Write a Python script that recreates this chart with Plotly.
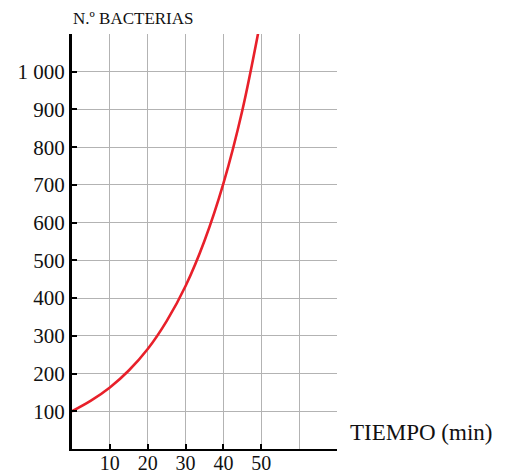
import plotly.graph_objects as go

# values
tiempo = [0, 5, 10, 15, 20, 25, 30, 35, 40, 45, 50]
bacterias = [100, 128, 163, 208, 265, 339, 432, 552, 704, 898, 1146]

x_ticks = [10, 20, 30, 40, 50]
y_ticks = [100, 200, 300, 400, 500, 600, 700, 800, 900, 1000]
y_labels = ["100", "200", "300", "400", "500", "600", "700", "800", "900", "1 000"]

serif = "Liberation Serif, Times New Roman, serif"

fig = go.Figure()
fig.add_trace(go.Scatter(
    x=tiempo, y=bacterias, mode="lines",
    line=dict(color="#e8202a", width=2.6, shape="spline"),
    hoverinfo="skip",
))

fig.update_xaxes(
    range=[0, 70], tickvals=x_ticks, ticktext=[str(v) for v in x_ticks],
    showgrid=True, gridcolor="#b3b3b3", gridwidth=1,
    minor=dict(dtick=10, tick0=0, showgrid=True, gridcolor="#b3b3b3", gridwidth=1, ticks=""),
    showline=True, linecolor="black", linewidth=2,
    ticks="inside", ticklen=5, tickwidth=2, tickcolor="black",
    tickfont=dict(family=serif, size=20, color="#111"), ticklabelstandoff=-5,
    zeroline=False, fixedrange=True, automargin=False,
)
fig.update_yaxes(
    range=[0, 1100], tickvals=y_ticks, ticktext=y_labels,
    showgrid=True, gridcolor="#b3b3b3", gridwidth=1,
    minor=dict(dtick=100, tick0=0, showgrid=True, gridcolor="#b3b3b3", gridwidth=1, ticks=""),
    showline=True, linecolor="black", linewidth=3,
    ticks="inside", ticklen=5, tickwidth=2, tickcolor="black",
    tickfont=dict(family=serif, size=21, color="#111"),
    zeroline=False, fixedrange=True, automargin=False,
)

fig.add_annotation(text="N.º BACTERIAS", xref="paper", yref="paper", x=-0.005, y=1.01,
                   xanchor="left", yanchor="bottom", showarrow=False,
                   font=dict(family=serif, size=17, color="#111"))
fig.add_annotation(text="TIEMPO (min)", xref="paper", yref="paper", x=1.04, y=0.04,
                   xanchor="left", yanchor="middle", showarrow=False,
                   font=dict(family=serif, size=23, color="#111"))

fig.update_layout(
    width=510, height=475,
    margin=dict(l=72, r=173, t=34, b=26, autoexpand=False),
    plot_bgcolor="white", paper_bgcolor="white",
    showlegend=False,
)

# drop the browser's default page margin so the figure sits at the window corner
fig.write_html("out.html", config={"displayModeBar": False},
               post_script="document.body.style.margin='0';")
